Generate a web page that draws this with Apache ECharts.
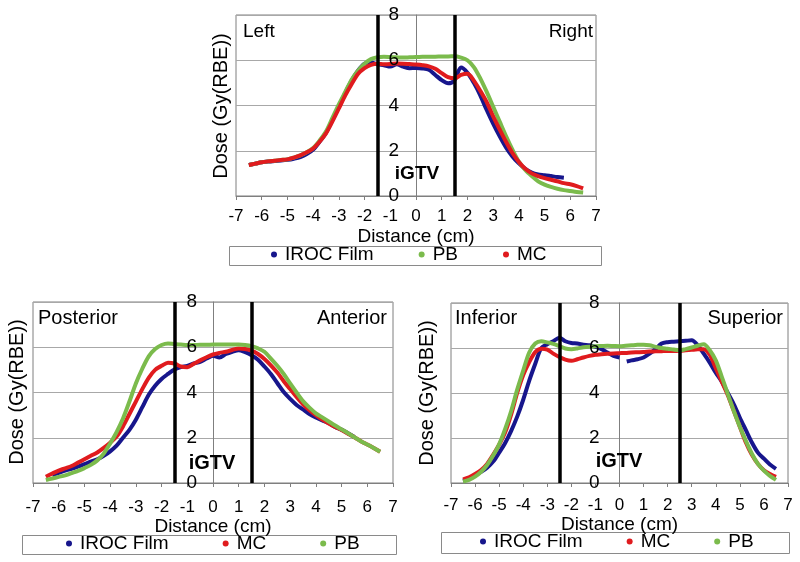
<!DOCTYPE html>
<html>
<head>
<meta charset="utf-8">
<script src="https://cdn.jsdelivr.net/npm/echarts@6/dist/echarts.min.js"></script>
<style>
html,body{margin:0;padding:0;background:#fff;}
#chart{width:800px;height:562px;}
</style>
</head>
<body>
<div id="chart"></div>
<script>
// ---------- DATA ----------
const seriesNames = ['IROC Film', 'PB', 'MC'];
const xTicks = [-7, 7, 1];          // min, max, step for distance axis
const yTicks = [0, 8, 2];           // min, max, step for dose axis
const xTitle = 'Distance (cm)';
const yTitle = 'Dose (Gy(RBE))';

const distX = [-6.5,-6.25,-6,-5.75,-5.5,-5.25,-5,-4.75,-4.5,-4.25,-4,-3.75,-3.5,-3.25,-3,-2.75,-2.5,-2.25,-2,-1.75,-1.5,-1.25,-1,-0.75,-0.5,-0.25,0,0.25,0.5,0.75,1,1.25,1.5,1.75,2,2.25,2.5,2.75,3,3.25,3.5,3.75,4,4.25,4.5,4.75,5,5.25,5.5,5.75,6,6.25,6.5];

// Top panel: Left / Right
const topFilm = [1.37,1.43,1.49,1.52,1.55,1.57,1.6,1.65,1.72,1.85,2.05,2.4,2.8,3.35,3.95,4.55,5.1,5.55,5.85,5.9,5.82,5.78,5.72,5.82,5.72,5.65,5.66,5.64,5.58,5.35,5.12,4.98,5.12,5.68,5.45,5.0,4.45,3.8,3.2,2.65,2.15,1.75,1.44,1.2,1.03,0.95,0.92,0.88,0.84,0.81,null,null,null];
const topPB   = [1.37,1.43,1.49,1.53,1.56,1.59,1.62,1.7,1.8,1.93,2.12,2.45,2.85,3.45,4.05,4.6,5.15,5.55,5.85,6.05,6.13,6.15,6.14,6.13,6.12,6.13,6.14,6.15,6.16,6.16,6.17,6.17,6.18,6.12,6.0,5.7,5.2,4.6,3.95,3.3,2.65,2.05,1.52,1.15,0.88,0.65,0.5,0.4,0.32,0.26,0.22,0.18,0.15];
const topMC   = [1.37,1.43,1.49,1.53,1.56,1.59,1.62,1.7,1.8,1.93,2.1,2.4,2.77,3.3,3.87,4.45,4.95,5.4,5.65,5.8,5.85,5.82,5.83,5.86,5.85,5.83,5.81,5.78,5.73,5.62,5.43,5.25,5.2,5.35,5.4,5.1,4.65,4.15,3.52,2.95,2.4,1.9,1.5,1.2,1.0,0.88,0.79,0.72,0.65,0.57,0.52,0.44,0.34];
const topBounds = [-1.5, 1.5];

// Bottom-left panel: Posterior / Anterior
const blFilm = [null,0.35,0.45,0.55,0.63,0.72,0.83,0.95,1.05,1.2,1.4,1.65,2.0,2.35,2.8,3.35,3.9,4.3,4.6,4.82,5.02,5.12,5.18,5.28,5.35,5.5,5.62,5.55,5.7,5.8,5.87,5.78,5.65,5.45,5.15,4.82,4.42,4.02,3.72,3.45,3.25,3.05,2.9,2.77,2.65,2.48,2.36,2.2,2.03,null,null,null,null];
const blMC   = [0.28,0.42,0.55,0.65,0.75,0.9,1.05,1.2,1.35,1.55,1.78,2.05,2.5,3.05,3.6,4.15,4.65,5.0,5.18,5.32,5.28,5.15,5.12,5.27,5.42,5.56,5.68,5.75,5.8,5.88,5.95,5.92,5.85,5.7,5.48,5.2,4.88,4.5,4.15,3.8,3.48,3.22,3.0,2.8,2.63,2.48,2.34,2.18,2.02,1.85,1.7,1.55,1.38];
const blPB   = [0.13,0.2,0.27,0.34,0.44,0.54,0.66,0.8,1.0,1.3,1.75,2.25,2.85,3.6,4.4,5.05,5.6,5.92,6.1,6.17,6.14,6.12,6.1,6.1,6.11,6.11,6.12,6.12,6.12,6.12,6.12,6.1,6.05,5.95,5.8,5.5,5.18,4.82,4.4,4.0,3.62,3.33,3.08,2.9,2.72,2.54,2.37,2.2,2.02,1.85,1.7,1.55,1.38];
const blBounds = [-1.5, 1.5];

// Bottom-right panel: Inferior / Superior
const brFilmX = [-6.5,-6.25,-6,-5.75,-5.5,-5.25,-5,-4.75,-4.5,-4.25,-4,-3.75,-3.5,-3.25,-3,-2.75,-2.5,-2.25,-2,-1.75,-1.5,-1.25,-1,-0.75,-0.5,-0.25,0,0.15,0.3,0.5,0.75,1,1.25,1.5,1.75,2,2.25,2.5,2.75,3,3.25,3.5,3.75,4,4.25,4.5,4.75,5,5.25,5.5,5.75,6,6.25,6.5];
const brFilm = [0.1,0.2,0.35,0.5,0.68,0.95,1.35,1.78,2.32,2.95,3.7,4.55,5.3,6.0,6.17,6.3,6.46,6.3,6.22,6.2,6.15,6.12,6.05,5.95,5.8,5.65,5.58,null,5.4,5.45,5.5,5.58,5.75,5.95,6.2,6.26,6.28,6.3,6.32,6.34,6.12,5.75,5.35,4.9,4.5,4.0,3.5,2.9,2.35,1.8,1.35,1.08,0.82,0.63];
const brMC   = [0.16,0.25,0.4,0.58,0.85,1.25,1.7,2.25,3.05,4.0,4.8,5.38,5.82,5.97,5.93,5.75,5.6,5.48,5.43,5.5,5.58,5.65,5.7,5.72,5.74,5.76,5.77,5.78,5.8,5.81,5.82,5.84,5.85,5.86,5.87,5.87,5.88,5.9,5.92,5.94,5.95,5.7,5.1,4.5,3.9,3.2,2.5,1.8,1.25,0.85,0.57,0.4,0.27];
const brPB   = [0.06,0.14,0.28,0.5,0.8,1.22,1.72,2.4,3.2,4.15,5.0,5.8,6.2,6.3,6.25,6.18,6.08,5.98,5.95,5.98,6.03,6.06,6.08,6.09,6.1,6.09,6.08,6.1,6.12,6.14,6.15,6.12,6.05,6.0,5.97,5.93,5.9,5.95,6.02,6.1,6.17,5.9,5.45,4.72,3.95,3.2,2.5,1.87,1.3,0.85,0.55,0.32,0.14];
const brBounds = [-2.5, 2.5];

// ---------- STYLE ----------
const FONT = '"Liberation Sans", Arial, sans-serif';
const COLORS = { 'IROC Film': '#17168c', 'PB': '#7bbb4c', 'MC': '#e01b1e' };
const AXIS_GRAY = '#7f7f7f';
const GRID_GRAY = '#a8a8a8';

function pairs(xs, ys) {
  return xs.map((x, i) => [x, ys[i] == null ? '-' : ys[i]]);
}

const gridBoxes = [
  { left: 236, top: 15, width: 360, height: 181 },
  { left: 33, top: 302, width: 360, height: 181 },
  { left: 451, top: 303, width: 337, height: 180 }
];
const grids = gridBoxes.map(g => Object.assign({ show: true, borderColor: AXIS_GRAY, borderWidth: 1, containLabel: false }, g));

function xAxisFor(gi, labelMargin, nameGap) {
  return {
    type: 'value', gridIndex: gi, min: xTicks[0], max: xTicks[1], interval: xTicks[2],
    name: xTitle, nameLocation: 'middle', nameGap: nameGap,
    nameTextStyle: { fontSize: 19, color: '#000', fontFamily: FONT },
    axisLine: { show: true, onZero: false, lineStyle: { color: AXIS_GRAY, width: 1 } },
    axisTick: { show: true, inside: false, length: 4, lineStyle: { color: AXIS_GRAY } },
    axisLabel: { fontSize: 17, color: '#000', margin: labelMargin, fontFamily: FONT, showMinLabel: true, showMaxLabel: true, hideOverlap: false },
    splitLine: { show: false }
  };
}
// y axis is drawn where distance = 0 (middle of the grid), as in the source figure
function yAxisFor(gi, labelMargin, labelsOnly) {
  const g = gridBoxes[gi];
  const zeroShift = g.width * (0 - xTicks[0]) / (xTicks[1] - xTicks[0]);
  return {
    type: 'value', gridIndex: gi, min: yTicks[0], max: yTicks[1], interval: yTicks[2],
    position: 'left', offset: -zeroShift, z: labelsOnly ? 20 : 0,
    axisLine: { show: !labelsOnly, onZero: false, lineStyle: { color: AXIS_GRAY, width: 1 } },
    axisTick: { show: false },
    axisLabel: { show: !!labelsOnly, fontSize: 19, color: '#000', margin: labelMargin, fontFamily: FONT },
    splitLine: { show: !labelsOnly, lineStyle: { color: GRID_GRAY, width: 1 } }
  };
}

function lineSeries(name, gi, xs, ys) {
  return {
    type: 'line', name: name, xAxisIndex: gi, yAxisIndex: gi,
    data: pairs(xs, ys), smooth: 0.3, showSymbol: false, symbol: 'none',
    connectNulls: false, silent: true, animation: false,
    lineStyle: { color: COLORS[name], width: 4 },
    itemStyle: { color: COLORS[name] }
  };
}
function boundSeries(gi, bounds) {
  return {
    type: 'line', name: 'iGTV bounds', xAxisIndex: gi, yAxisIndex: gi, data: [],
    z: 10, silent: true, animation: false,
    markLine: {
      silent: true, symbol: ['none', 'none'], animation: false,
      label: { show: false },
      lineStyle: { color: '#000', width: 3.5, type: 'solid' },
      data: bounds.map(b => ({ xAxis: b }))
    }
  };
}

const series = [
  lineSeries('IROC Film', 0, distX, topFilm),
  lineSeries('PB', 0, distX, topPB),
  lineSeries('MC', 0, distX, topMC),
  boundSeries(0, topBounds),
  lineSeries('IROC Film', 1, distX, blFilm),
  lineSeries('MC', 1, distX, blMC),
  lineSeries('PB', 1, distX, blPB),
  boundSeries(1, blBounds),
  lineSeries('IROC Film', 2, brFilmX, brFilm),
  lineSeries('MC', 2, distX, brMC),
  lineSeries('PB', 2, distX, brPB),
  boundSeries(2, brBounds)
];

function legendFor(names, left, top, gap) {
  return {
    data: names, left: left, top: top, orient: 'horizontal', padding: 0,
    itemWidth: 12, itemHeight: 6, itemGap: gap, icon: 'circle',
    selectedMode: false,
    textStyle: { fontSize: 19, color: '#000', fontFamily: FONT, padding: [0, 0, 0, 0] }
  };
}

function txt(text, x, y, opts) {
  return {
    type: 'text', x: x, y: y, silent: true, z: 100,
    rotation: (opts && opts.rot) || 0,
    style: Object.assign({
      text: text, fill: '#000', fontSize: 19, fontFamily: FONT,
      align: 'left', verticalAlign: 'middle'
    }, (opts && opts.style) || {})
  };
}
function box(x, y, w, h) {
  return { type: 'rect', silent: true, z: 0, shape: { x: x + 0.5, y: y + 0.5, width: w, height: h },
    style: { fill: '#fff', stroke: '#8a8a8a', lineWidth: 1 } };
}

const graphic = [
  box(229, 246, 372, 19),
  box(22, 535, 374, 19),
  box(441, 532, 348, 21),
  txt('Left', 243, 32),
  txt('Right', 593, 32, { style: { align: 'right' } }),
  txt('iGTV', 417, 174, { style: { align: 'center', fontWeight: 'bold' } }),
  txt('Posterior', 38, 318, { style: { fontSize: 20 } }),
  txt('Anterior', 387, 318, { style: { align: 'right', fontSize: 20 } }),
  txt('iGTV', 212, 463, { style: { align: 'center', fontWeight: 'bold', fontSize: 20 } }),
  txt('Inferior', 455, 318, { style: { fontSize: 20 } }),
  txt('Superior', 783, 318, { style: { align: 'right', fontSize: 20 } }),
  txt('iGTV', 619, 461, { style: { align: 'center', fontWeight: 'bold', fontSize: 20 } }),
  txt(yTitle, 221, 106, { rot: Math.PI / 2, style: { align: 'center', fontSize: 20 } }),
  txt(yTitle, 17, 392, { rot: Math.PI / 2, style: { align: 'center', fontSize: 20 } }),
  txt(yTitle, 427, 393, { rot: Math.PI / 2, style: { align: 'center', fontSize: 20 } })
];

const chart = echarts.init(document.getElementById('chart'), null, { renderer: 'canvas' });
chart.setOption({
  animation: false,
  backgroundColor: '#fff',
  textStyle: { fontFamily: FONT },
  grid: grids,
  xAxis: [xAxisFor(0, 12, 31), xAxisFor(1, 16, 32), xAxisFor(2, 14, 27)],
  yAxis: [yAxisFor(0, 17, false), yAxisFor(1, 16, false), yAxisFor(2, 20, false),
          yAxisFor(0, 17, true), yAxisFor(1, 16, true), yAxisFor(2, 20, true)],
  legend: [
    legendFor(['IROC Film', 'PB', 'MC'], 271, 245, 45),
    legendFor(['IROC Film', 'MC', 'PB'], 66, 534, 54),
    legendFor(['IROC Film', 'MC', 'PB'], 480, 532, 44)
  ],
  graphic: graphic,
  series: series
});
</script>
</body>
</html>
